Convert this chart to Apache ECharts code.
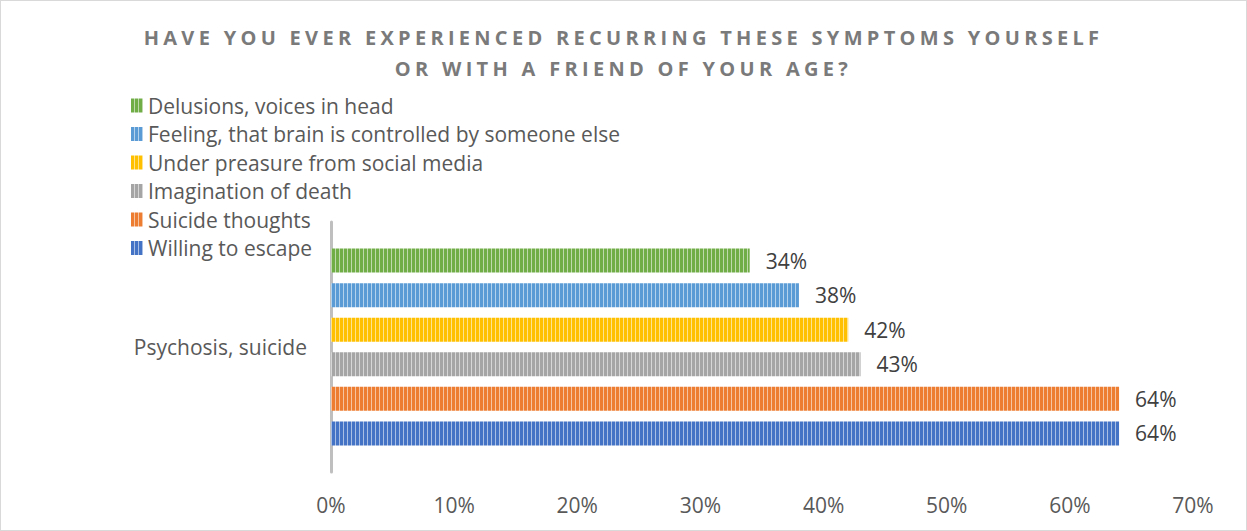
<!DOCTYPE html>
<html>
<head>
<meta charset="utf-8">
<script src="https://cdn.jsdelivr.net/npm/echarts@6/dist/echarts.min.js"></script>
<style>
html,body{margin:0;padding:0;background:#fff;}
#wrap{width:1247px;height:531px;box-sizing:border-box;border:1px solid #d9d9d9;position:relative;}
#chart{position:absolute;left:-1px;top:-1px;width:1247px;height:531px;}
#chart svg text[style*="bold"]{letter-spacing:4.3px;}
</style>
</head>
<body>
<div id="wrap"><div id="chart"></div></div>
<script>
const titleText = 'HAVE YOU EVER EXPERIENCED RECURRING THESE SYMPTOMS YOURSELF\nOR WITH A FRIEND OF YOUR AGE?';
const categories = ['Psychosis, suicide'];
const seriesNames = ['Delusions, voices in head', 'Feeling, that brain is controlled by someone else', 'Under preasure from social media', 'Imagination of death', 'Suicide thoughts', 'Willing to escape'];
const seriesValues = [34, 38, 42, 43, 64, 64];
const seriesColors = ['#70ad47', '#5b9bd5', '#ffc000', '#a5a5a5', '#ed7d31', '#4472c4'];
const xTicks = [0, 10, 20, 30, 40, 50, 60, 70];

function stripe(color) {
  const c = document.createElement('canvas');
  c.width = 4; c.height = 4;
  const g = c.getContext('2d');
  g.fillStyle = color; g.fillRect(0, 0, 4, 4);
  g.fillStyle = 'rgba(255,255,255,0.55)'; g.fillRect(3, 0, 1, 4);
  return { image: c, repeat: 'repeat' };
}

const FONT = 'Open Sans';
const chart = echarts.init(document.getElementById('chart'), null, { renderer: 'svg' });
const series = seriesNames.map((n, i) => ({
  name: n,
  type: 'bar',
  data: [seriesValues[i]],
  barWidth: 24,
  barGap: '44%',
  itemStyle: { color: stripe(seriesColors[i]) },
  label: {
    show: true, position: 'right', distance: 16,
    formatter: '{c}%', fontSize: 21, color: '#404040', fontFamily: FONT
  }
}));
chart.setOption({
  animation: false,
  title: {
    text: titleText, left: 'center', top: 17,
    textStyle: { fontSize: 20, fontWeight: 'bold', color: '#7a7a7a', lineHeight: 31, fontFamily: FONT }
  },
  legend: {
    orient: 'vertical', left: 126, top: 90,
    data: seriesNames,
    icon: 'rect', itemWidth: 12, itemHeight: 14, itemGap: 7.5,
    textStyle: { fontSize: 21, color: '#595959', lineHeight: 21, fontFamily: FONT }
  },
  grid: { left: 331, right: 54, top: 222, bottom: 59, containLabel: false },
  xAxis: {
    type: 'value', min: xTicks[0], max: xTicks[xTicks.length - 1], interval: 10,
    axisLine: { show: false }, axisTick: { show: false }, splitLine: { show: false },
    axisLabel: { formatter: '{value}%', fontSize: 21, color: '#595959', margin: 22, fontFamily: FONT }
  },
  yAxis: {
    type: 'category', data: categories,
    axisLine: { show: true, lineStyle: { color: '#bfbfbf', width: 3 } },
    axisTick: { show: false },
    axisLabel: { fontSize: 21, color: '#595959', margin: 24, fontFamily: FONT }
  },
  series: series
});
</script>
</body>
</html>
